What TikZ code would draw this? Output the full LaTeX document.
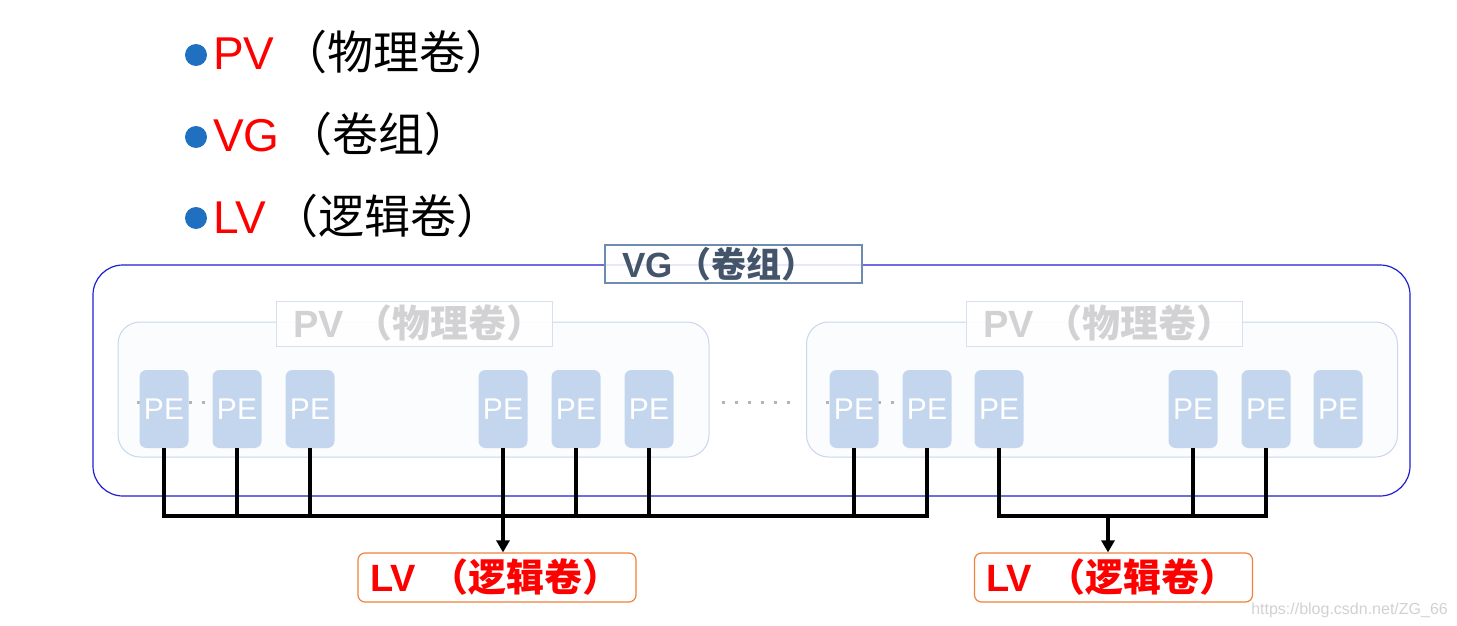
\documentclass[tikz,border=0pt]{standalone}
\usepackage{fontspec}
\setmainfont{Liberation Sans}
\newfontfamily\cjk{Noto Sans CJK SC}
\usepackage{xcolor}
\usepackage{tikz}
\usetikzlibrary{arrows.meta}
\definecolor{dotblue}{RGB}{31,112,192}
\definecolor{vgblue}{RGB}{30,30,210}
\definecolor{vgline}{RGB}{110,140,175}
\definecolor{vgtext}{RGB}{68,84,106}
\definecolor{pvline}{RGB}{200,215,235}
\definecolor{pvfill}{RGB}{250,252,254}
\definecolor{pvlabline}{RGB}{215,225,238}
\definecolor{pvtext}{RGB}{210,210,212}
\definecolor{pefill}{RGB}{196,214,238}
\definecolor{dotgray}{RGB}{180,180,180}
\definecolor{lvline}{RGB}{240,130,60}
\newcommand{\zh}[2][0.2em]{\kern#1{\cjk #2}}
\newcommand{\fsz}[1]{\fontsize{#1}{#1}\selectfont}

\begin{document}
\begin{tikzpicture}[x=1pt,y=-1pt,
	vgbox/.style={draw=vgblue,line width=1.2pt,rounded corners=30pt,minimum width=1317pt,minimum height=231pt},
	vglab/.style={draw=vgline,line width=1.2pt,fill=white,fill opacity=0.85,text opacity=1,text=vgtext,font=\fsz{35}\bfseries,minimum height=38pt,inner xsep=17pt,inner ysep=0pt,text width=223pt,align=left},
	pvbox/.style={draw=pvline,line width=1pt,fill=pvfill,rounded corners=22pt,minimum width=591pt,minimum height=135pt},
	pvlab/.style={draw=pvlabline,line width=1pt,fill=white,fill opacity=0.9,text opacity=1,text=pvtext,font=\fsz{38}\bfseries,minimum height=45pt,inner xsep=17pt,inner ysep=0pt,text width=242pt,align=left},
	pe/.style={fill=pefill,rounded corners=7pt,minimum width=49pt,minimum height=78pt,inner sep=0pt,text=white,font=\fsz{30}},
	lvlab/.style={draw=lvline,line width=1.2pt,fill=white,rounded corners=7pt,text=red,font=\fsz{38}\bfseries,minimum height=49pt,inner xsep=12pt,inner ysep=0pt,text width=254pt,align=left},
	dotline/.style={dotgray,line width=3pt,dash pattern=on 3pt off 10pt},
	bus/.style={line width=3.5pt},
	arr/.style={line width=3.5pt,-{Triangle[width=13pt,length=12pt]}}]
				\useasboundingbox (0,0) rectangle (1457,626);
				\fill[dotblue] (196,55) circle (11pt);
				\fill[dotblue] (196,137) circle (11pt);
				\fill[dotblue] (196,218) circle (11pt);
				\node[anchor=base west,inner sep=0pt,font=\fsz{46}] (t1) at (213,70) {\textcolor{red}{PV}\zh[0.15em]{（物理卷）}};
				\node[anchor=base west,inner sep=0pt,font=\fsz{46}] (t2) at (213,151) {\textcolor{red}{VG}\zh[0.15em]{（卷组）}};
				\node[anchor=base west,inner sep=0pt,font=\fsz{46}] (t3) at (213,233) {\textcolor{red}{LV}\zh[0.15em]{（逻辑卷）}};
				\node[vgbox] (vg) at (751.5,380.5) {};
				\node[vglab] (vglabel) at (733.5,264) {VG\zh[0.12em]{（卷组）}};
				\node[pvbox] (pv1) at (413.5,389.5) {};
				\node[pvbox] (pv2) at (1102,389.5) {};
				\node[pvlab] (pv1label) at (414,323.5) {PV\zh[0.28em]{（物理卷）}};
				\node[pvlab] (pv2label) at (1104,323.5) {PV\zh[0.28em]{（物理卷）}};
				\draw[dotline] (137,402) -- (213,402);
				\draw[dotline] (722,402) -- (797,402);
				\draw[dotline] (826,402) -- (900,402);
				\node[pe] (pe1) at (164,409) {PE};
				\node[pe] (pe2) at (237,409) {PE};
				\node[pe] (pe3) at (310,409) {PE};
				\node[pe] (pe4) at (503,409) {PE};
				\node[pe] (pe5) at (576,409) {PE};
				\node[pe] (pe6) at (649,409) {PE};
				\node[pe] (pe7) at (854,409) {PE};
				\node[pe] (pe8) at (927,409) {PE};
				\node[pe] (pe9) at (999,409) {PE};
				\node[pe] (pe10) at (1193,409) {PE};
				\node[pe] (pe11) at (1266,409) {PE};
				\node[pe] (pe12) at (1338,409) {PE};
				\node[lvlab] (lv1) at (497,577.5) {LV\zh[0.4em]{（逻辑卷）}};
				\node[lvlab] (lv2) at (1113.5,577.5) {LV\zh[0.4em]{（逻辑卷）}};
				\coordinate (j1) at (503,516);
				\coordinate (j2) at (1108,516);
				\draw[bus] (pe1.south) |- (j1) -| (pe8.south);
				\draw[bus] (pe2.south) -- (pe2.south |- j1);
				\draw[bus] (pe3.south) -- (pe3.south |- j1);
				\draw[bus] (pe5.south) -- (pe5.south |- j1);
				\draw[bus] (pe6.south) -- (pe6.south |- j1);
				\draw[bus] (pe7.south) -- (pe7.south |- j1);
				\draw[arr] (pe4.south) -- (pe4.south |- lv1.north);
				\draw[bus] (pe9.south) |- (j2) -| (pe11.south);
				\draw[bus] (pe10.south) -- (pe10.south |- j2);
				\draw[arr] (j2) -- (j2 |- lv2.north);
				\node[anchor=base east,inner sep=0pt,font=\fsz{16},text=black!18] (wm) at (1448,614) {https://blog.csdn.net/ZG\_66};
			\end{tikzpicture}
\end{document}
